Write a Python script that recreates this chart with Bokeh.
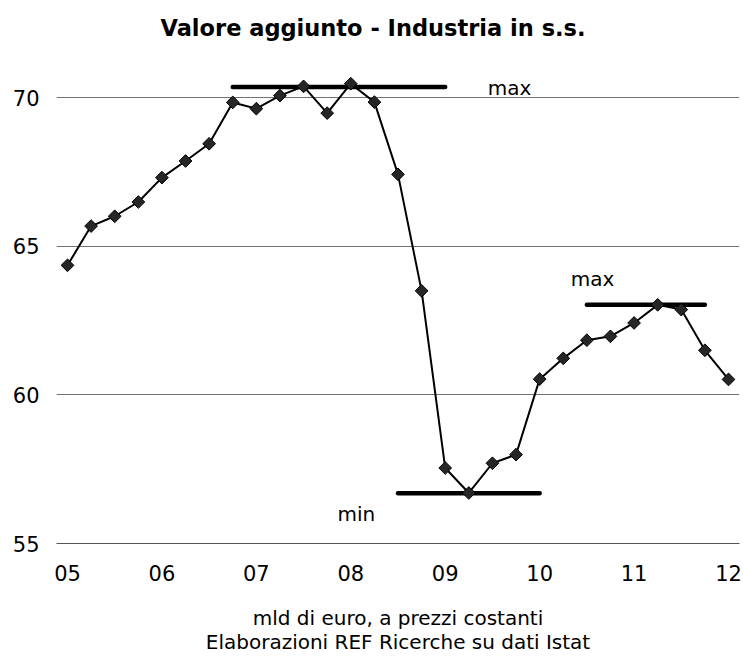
from bokeh.plotting import figure
from bokeh.models import FixedTicker, Label, Title
from bokeh.embed import file_html
from bokeh.resources import INLINE
import numpy as np

# ---- data ----
x_quarters = [5 + 0.25 * i for i in range(29)]
values = [64.36, 65.68, 66.01, 66.49, 67.31, 67.87, 68.45, 69.84,
          69.63, 70.07, 70.38, 69.48, 70.47, 69.85, 67.42, 63.50,
          57.54, 56.70, 57.70, 57.99, 60.53, 61.23, 61.84, 61.97,
          62.42, 63.03, 62.87, 61.50, 60.52]
x_ticks = [5, 6, 7, 8, 9, 10, 11, 12]
x_tick_labels = ["05", "06", "07", "08", "09", "10", "11", "12"]
y_ticks = [55, 60, 65, 70]
grid_ticks = [60, 65, 70]

# reference lines: (x0, x1, level)
ref_x0 = [6.75, 8.5, 10.5]
ref_x1 = [9.0, 10.0, 11.75]
ref_level = [70.36, 56.69, 63.03]

note_texts = ["max", "min", "max"]
note_x = [9.45, 7.86, 10.33]
note_y = [70.33, 56.0, 63.9]

title_text = "Valore aggiunto - Industria in s.s."
foot1 = "mld di euro, a prezzi costanti"
foot2 = "Elaborazioni REF Ricerche su dati Istat"

FONT = "DejaVu Sans"

p = figure(width=743, height=656, x_range=(4.8835, 12.1165), y_range=(55, 71.52),
           output_backend="svg", toolbar_location=None,
           min_border_left=56, min_border_right=4, min_border_top=52,
           min_border_bottom=113)
p.outline_line_color = None
p.background_fill_color = "white"
p.border_fill_color = "white"

# title
p.title = Title(text=title_text, align="left", offset=104,
                text_font=FONT, text_font_size="22.5px", text_font_style="bold",
                text_color="black", standoff=24)

# axes
p.xaxis.ticker = FixedTicker(ticks=x_ticks)
p.xaxis.major_label_overrides = {t: l for t, l in zip(x_ticks, x_tick_labels)}
p.xaxis.axis_line_color = "#555555"
p.xaxis.axis_line_width = 1
p.xaxis.major_tick_line_color = None
p.xaxis.minor_tick_line_color = None
p.xaxis.major_label_standoff = 15
p.xaxis.major_label_text_font = FONT
p.xaxis.major_label_text_font_size = "21px"
p.xaxis.major_label_text_line_height = 1.0
p.xaxis.major_label_text_color = "black"
p.xaxis.axis_label = foot1 + "\n" + foot2
p.xaxis.axis_label_standoff = 22
p.xaxis.axis_label_text_font = FONT
p.xaxis.axis_label_text_font_size = "20px"
p.xaxis.axis_label_text_font_style = "normal"
p.xaxis.axis_label_text_line_height = 1.0
p.xaxis.axis_label_text_color = "black"

p.yaxis.ticker = FixedTicker(ticks=y_ticks)
p.yaxis.axis_line_color = None
p.yaxis.major_tick_line_color = None
p.yaxis.minor_tick_line_color = None
p.yaxis.major_label_standoff = 11
p.yaxis.major_label_text_font = FONT
p.yaxis.major_label_text_font_size = "21px"
p.yaxis.major_label_text_color = "black"

p.xgrid.grid_line_color = None
p.ygrid.ticker = FixedTicker(ticks=grid_ticks)
p.ygrid.grid_line_color = "#737373"
p.ygrid.grid_line_width = 1

# reference max/min lines
p.segment(x0=ref_x0, x1=ref_x1, y0=ref_level, y1=ref_level,
          line_color="black", line_width=4.5, line_cap="round")

# main series
p.line(x_quarters, values, line_color="black", line_width=2)
p.scatter(x_quarters, values, marker="square", angle=np.pi / 4, size=9,
          fill_color="#262626", line_color="black", line_width=1)

# max/min notes
for t, xx, yy in zip(note_texts, note_x, note_y):
    p.add_layout(Label(x=xx, y=yy, text=t, text_font=FONT, text_font_size="20px",
                       text_color="black", text_baseline="alphabetic", text_align="left"))

open("out.html", "w").write(file_html(p, INLINE))
